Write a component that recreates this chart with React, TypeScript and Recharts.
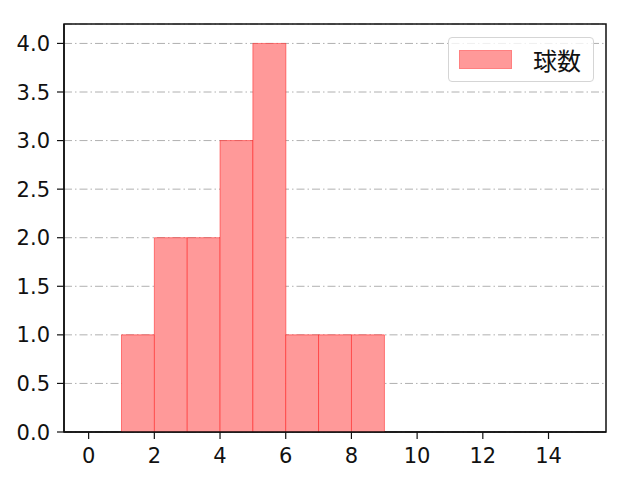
import React from "react";
import {
  ComposedChart,
  Bar,
  XAxis,
  YAxis,
  CartesianGrid,
  Legend,
  ReferenceArea,
} from "recharts";

// histogram bins: left edges 0..14, width 1
const binStarts = [0, 1, 2, 3, 4, 5, 6, 7, 8, 9, 10, 11, 12, 13, 14];
const counts = [0, 1, 2, 2, 3, 4, 1, 1, 1, 0, 0, 0, 0, 0, 0];
const xTicks = [0, 2, 4, 6, 8, 10, 12, 14];
const yTicks = [0, 0.5, 1, 1.5, 2, 2.5, 3, 3.5, 4];
const xDomain = [-0.75, 15.75];
const yDomain = [0, 4.2];

const chartData = binStarts.map((start, i) => ({
  mid: start + 0.5,
  count: counts[i],
}));

const font = "'Noto Sans CJK JP', 'Noto Sans', sans-serif";
const tickFamily = "'DejaVu Sans', sans-serif";
const tickFont = 21;

const XTick = (props: any) => {
  const { x, y, payload } = props;
  return (
    <text x={x} y={y} dy="0.74em" textAnchor="middle" fill="#111" fontSize={tickFont} fontFamily={tickFamily}>
      {payload.value}
    </text>
  );
};

const YTick = (props: any) => {
  const { x, y, payload } = props;
  return (
    <text x={x + 1} y={y} dy="0.36em" textAnchor="end" fill="#111" fontSize={tickFont} fontFamily={tickFamily}>
      {Number(payload.value).toFixed(1)}
    </text>
  );
};

const LegendBox = (props: any) => {
  const item = props.payload?.[0];
  return (
    <div
      style={{
        position: "absolute",
        left: 448,
        top: 37,
        width: 146,
        height: 45,
        boxSizing: "border-box",
        border: "1px solid #d5d5d5",
        borderRadius: 4,
        background: "rgba(255,255,255,0.8)",
        fontFamily: font,
        display: "flex",
        alignItems: "center",
      }}
    >
      <span
        style={{
          display: "inline-block",
          width: 53,
          height: 19,
          marginLeft: 10,
          background: "#ff9999",
          border: "1px solid #ff8080",
          boxSizing: "border-box",
        }}
      />
      <span style={{ marginLeft: 21, fontSize: 24, color: "#111", lineHeight: 1 }}>
        {item?.value}
      </span>
    </div>
  );
};

export default function App() {
  return (
    <div style={{ position: "absolute", left: 0, top: 0, width: 640, height: 480, background: "#fff", fontFamily: font }}>
      <ComposedChart
        width={640}
        height={480}
        data={chartData}
        barCategoryGap={0}
        barGap={0}
        margin={{ top: 24, right: 34, bottom: 0, left: 0 }}
      >
        <CartesianGrid
          xAxisId="bottom"
          yAxisId="left"
          horizontal
          vertical={false}
          stroke="#b0b0b0"
          strokeDasharray="8 3 1.5 3"
        />
        <XAxis
          xAxisId="bottom"
          dataKey="mid"
          type="number"
          domain={xDomain}
          ticks={xTicks}
          allowDataOverflow
          height={48}
          stroke="#111"
          tickSize={7}
          tickMargin={8}
          tick={<XTick />}
          axisLine={{ stroke: "#111", strokeWidth: 1.5 }}
          tickLine={{ stroke: "#111", strokeWidth: 1.2 }}
        />
        <YAxis
          yAxisId="left"
          type="number"
          domain={yDomain}
          ticks={yTicks}
          allowDataOverflow
          width={64}
          stroke="#111"
          tickSize={7}
          tickMargin={8}
          tick={<YTick />}
          axisLine={{ stroke: "#111", strokeWidth: 1.5 }}
          tickLine={{ stroke: "#111", strokeWidth: 1.2 }}
        />
        <Legend
          content={<LegendBox />}
          wrapperStyle={{ position: "absolute", left: 0, top: 0, width: 0, height: 0 }}
        />
        <Bar
          xAxisId="bottom"
          yAxisId="left"
          dataKey="count"
          name="球数"
          fill="#ff9999"
          stroke="#ff0000"
          strokeOpacity={0.45}
          strokeWidth={1}
          isAnimationActive={false}
        />
        <ReferenceArea
          xAxisId="bottom"
          yAxisId="left"
          x1={xDomain[0]}
          x2={xDomain[1]}
          y1={yDomain[0]}
          y2={yDomain[1]}
          fill="none"
          fillOpacity={0}
          stroke="#111"
          strokeWidth={1.5}
          ifOverflow="visible"
        />
      </ComposedChart>
    </div>
  );
}
